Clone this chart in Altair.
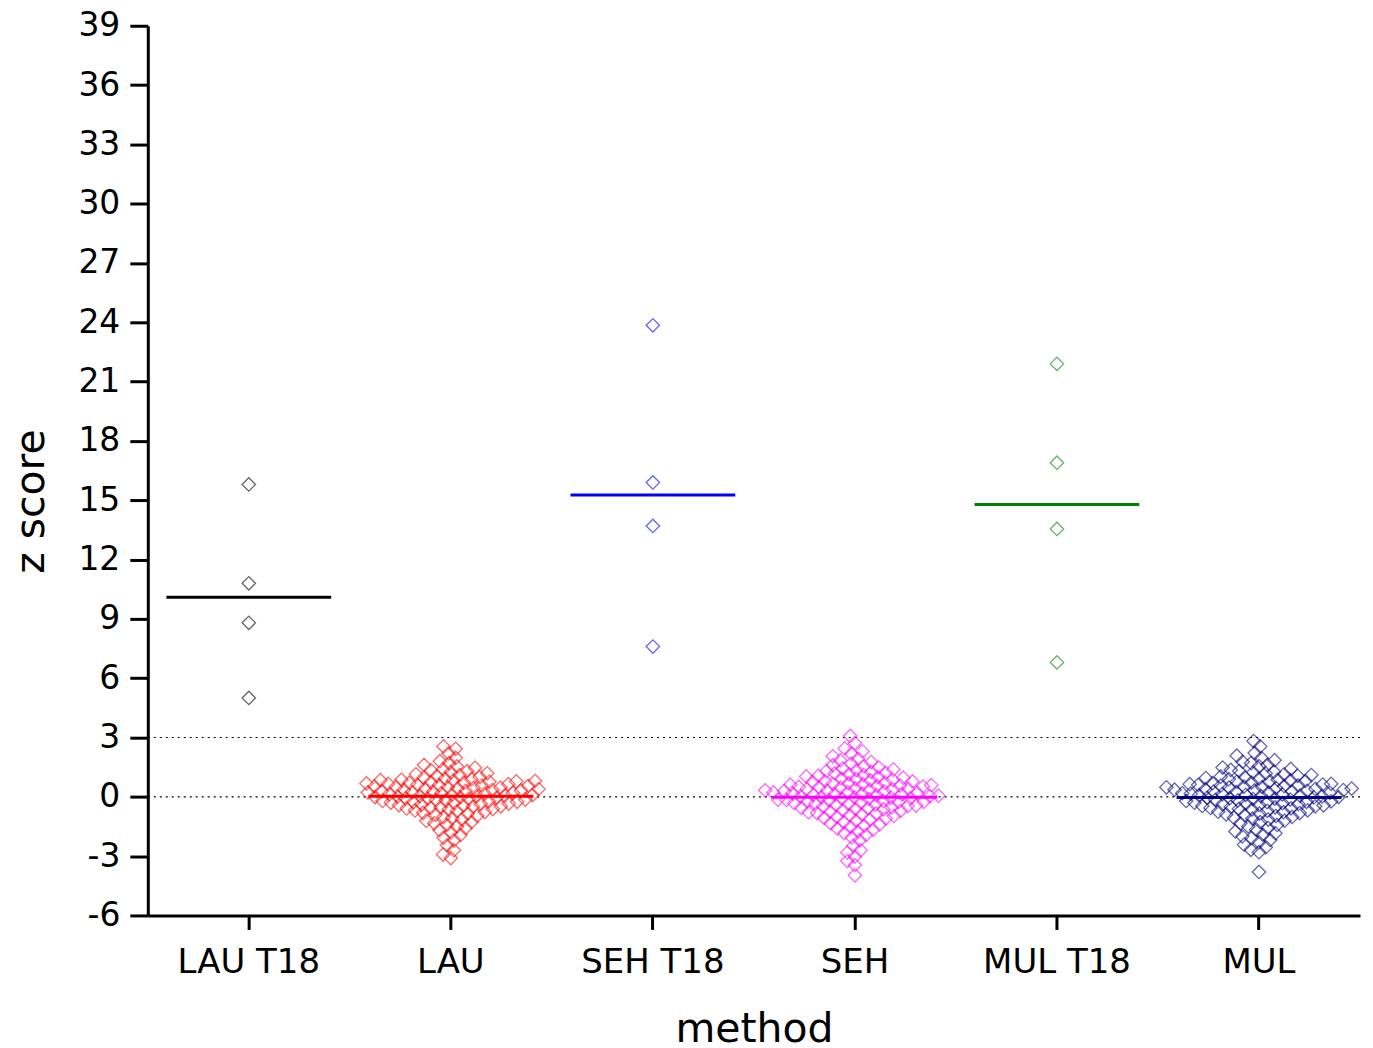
import math
import pandas as pd
import altair as alt

categories = ["LAU T18", "LAU", "SEH T18", "SEH", "MUL T18", "MUL"]
colors = ["#000000", "#ff0000", "#0000ff", "#ff00ff", "#008000", "#000080"]

LAU_T18 = [15.8, 10.8, 8.8, 5.0]
SEH_T18 = [23.85, 15.9, 13.7, 7.6]
MUL_T18 = [21.9, 16.9, 13.55, 6.8]

LAU = [2.55, 2.43, 2.2, 1.97, 1.8, 1.7, 1.61, 1.54, 1.47, 1.4,
       1.35, 1.3, 1.24, 1.19, 1.14, 1.1, 1.05, 1.0, 0.96, 0.92, 0.89,
       0.86, 0.84, 0.82, 0.8, 0.78, 0.76, 0.74, 0.72, 0.7, 0.68, 0.66, 0.64,
       0.61, 0.59, 0.57, 0.55, 0.53, 0.51, 0.49, 0.47, 0.45, 0.43, 0.41, 0.39,
       0.36, 0.34, 0.32, 0.3, 0.28, 0.26, 0.24, 0.22, 0.2, 0.18, 0.16, 0.14,
       0.11, 0.09, 0.07, 0.05, 0.03, 0.01, -0.01, -0.03, -0.05, -0.07, -0.09, -0.11,
       -0.14, -0.16, -0.19, -0.21, -0.23, -0.25, -0.27, -0.29, -0.31, -0.34, -0.36,
       -0.39, -0.42, -0.45, -0.48, -0.5, -0.53, -0.56, -0.59, -0.62,
       -0.65, -0.69, -0.73, -0.77, -0.81, -0.85,
       -0.9, -0.96, -1.02, -1.08, -1.15, -1.21, -1.28, -1.34,
       -1.42, -1.5, -1.58, -1.68, -1.8, -1.93, -2.06, -2.2, -2.45, -2.7, -2.92, -3.1]

SEH = [3.08, 2.72, 2.45, 2.3, 2.18, 2.05, 1.93, 1.84, 1.76, 1.68,
       1.6, 1.55, 1.49, 1.43, 1.38, 1.34, 1.3, 1.26, 1.22, 1.18, 1.14,
       1.1, 1.07, 1.03, 1.0, 0.97, 0.93, 0.9,
       0.86, 0.83, 0.8, 0.78, 0.75, 0.72, 0.69, 0.66, 0.63,
       0.61, 0.59, 0.57, 0.55, 0.52, 0.5, 0.48, 0.46, 0.43, 0.41, 0.39,
       0.37, 0.35, 0.33, 0.31, 0.29, 0.27, 0.24, 0.22, 0.2, 0.18, 0.16, 0.14,
       0.12, 0.1, 0.08, 0.06, 0.04, 0.02, -0.01, -0.03, -0.05, -0.07, -0.09, -0.11,
       -0.14, -0.16, -0.18, -0.21, -0.23, -0.25, -0.27, -0.29, -0.32, -0.34, -0.36,
       -0.39, -0.42, -0.44, -0.47, -0.5, -0.53, -0.56, -0.58, -0.61,
       -0.64, -0.68, -0.71, -0.75, -0.78, -0.82, -0.85,
       -0.89, -0.93, -0.97, -1.02, -1.06, -1.1,
       -1.15, -1.21, -1.28, -1.34, -1.4, -1.46, -1.53, -1.6,
       -1.66, -1.75, -1.84, -1.92, -2.05, -2.2, -2.48, -2.7, -2.82,
       -3.02, -3.25, -3.45, -3.97]

MUL = [2.82, 2.55, 2.22, 2.08, 1.96, 1.85, 1.77, 1.7,
       1.62, 1.55, 1.48, 1.41, 1.36, 1.31, 1.27, 1.23, 1.18, 1.14,
       1.1, 1.06, 1.02, 0.99, 0.95, 0.92, 0.89,
       0.86, 0.83, 0.8, 0.77, 0.75, 0.72, 0.69, 0.66, 0.64,
       0.62, 0.6, 0.58, 0.56, 0.54, 0.52, 0.5, 0.48, 0.46, 0.44, 0.42, 0.4,
       0.38, 0.36, 0.34, 0.32, 0.3, 0.28, 0.26, 0.24, 0.22, 0.2, 0.18, 0.16, 0.14,
       0.12, 0.1, 0.08, 0.06, 0.04, 0.02, -0.01, -0.03, -0.05, -0.07, -0.09, -0.11,
       -0.14, -0.16, -0.18, -0.21, -0.23, -0.25, -0.27, -0.3, -0.32, -0.34, -0.36,
       -0.38, -0.41, -0.43, -0.46, -0.48, -0.51, -0.53, -0.56, -0.58, -0.61,
       -0.64, -0.68, -0.71, -0.75, -0.78, -0.82, -0.85,
       -0.89, -0.93, -0.97, -1.02, -1.06, -1.1,
       -1.15, -1.21, -1.28, -1.34, -1.42, -1.5, -1.58,
       -1.66, -1.75, -1.84, -1.92, -2.0, -2.08, -2.18, -2.3,
       -2.42, -2.55, -2.68, -2.8, -3.8]

ref_lines = [0, 3]
y_ticks = list(range(-6, 40, 3))

PLOT_W = 1214
PLOT_H = 891
Y_MIN, Y_MAX = -6, 39
PX_PER_UNIT = PLOT_H / (Y_MAX - Y_MIN)
BAND = PLOT_W / len(categories)
D = 8.5  # swarm collision distance in px


def swarm(values):
    order = sorted(range(len(values)), key=lambda i: values[i])
    placed = []
    offs = [0.0] * len(values)
    for i in order:
        y = values[i] * PX_PER_UNIT
        near = [(px, py) for px, py in placed if abs(py - y) < D]
        cands = [0.0]
        for px, py in near:
            dx = math.sqrt(D * D - (py - y) ** 2)
            cands += [px + dx, px - dx]
        cands.sort(key=lambda c: (abs(c), c))
        for c in cands:
            if all((c - px) ** 2 + (y - py) ** 2 >= D * D - 1e-6 for px, py in near):
                offs[i] = c
                placed.append((c, y))
                break
    return [o / BAND for o in offs]


series = [LAU_T18, LAU, SEH_T18, SEH, MUL_T18, MUL]
rows = []
for cat, vals in zip(categories, series):
    for v, o in zip(vals, swarm(vals)):
        rows.append({"method": cat, "z": v, "off": o})
df = pd.DataFrame(rows)
ref_df = pd.DataFrame({"ref": ref_lines})

FONT = "DejaVu Sans"

x_enc = alt.X(
    "method:N",
    sort=categories,
    scale=alt.Scale(paddingInner=0, paddingOuter=0),
    axis=alt.Axis(
        title="method", labelAngle=0, labelFontSize=34, labelFont=FONT,
        labelColor="black", labelPadding=16, tickSize=14, tickWidth=3,
        tickColor="black", domainColor="black", domainWidth=3,
        titleFontSize=41, titleFont=FONT, titleFontWeight="normal",
        titleColor="black", titlePadding=30,
    ),
)
y_scale = alt.Scale(domain=[Y_MIN, Y_MAX], nice=False, zero=False)
y_axis = alt.Axis(
    title="z score", values=y_ticks, labelFontSize=33, labelFont=FONT,
    labelExpr="datum.value + ''",
    labelColor="black", labelPadding=10, tickSize=18, tickWidth=3,
    tickColor="black", domainColor="black", domainWidth=3, grid=False,
    titleFontSize=41, titleFont=FONT, titleFontWeight="normal",
    titleColor="black", titleAngle=270, titleAlign="center",
    titleBaseline="middle", titleX=-116, titleY=476,
)
color_scale = alt.Scale(domain=categories, range=colors)

refs = alt.Chart(ref_df).mark_rule(
    color="black", strokeDash=[2, 4], strokeWidth=1.2
).encode(y=alt.Y("ref:Q", scale=y_scale, axis=y_axis))

points = alt.Chart(df).mark_point(
    shape="diamond", filled=False, size=180, strokeWidth=1.3, opacity=0.6
).encode(
    x=x_enc,
    xOffset=alt.XOffset("off:Q", scale=alt.Scale(domain=[-0.5, 0.5])),
    y=alt.Y("z:Q", scale=y_scale, axis=y_axis),
    color=alt.Color("method:N", scale=color_scale, legend=None),
)

means = alt.Chart(df).mark_tick(size=165, thickness=3).encode(
    x=x_enc,
    y=alt.Y("mean(z):Q", scale=y_scale, axis=y_axis),
    color=alt.Color("method:N", scale=color_scale, legend=None),
)

chart = alt.layer(refs, points, means).properties(
    width=PLOT_W, height=PLOT_H,
    autosize=alt.AutoSizeParams(type="none"),
    padding={"left": 140, "top": 17, "right": 5, "bottom": 150},
).configure_view(stroke=None)

chart.save("out.html", embed_options={"renderer": "svg", "actions": False})
